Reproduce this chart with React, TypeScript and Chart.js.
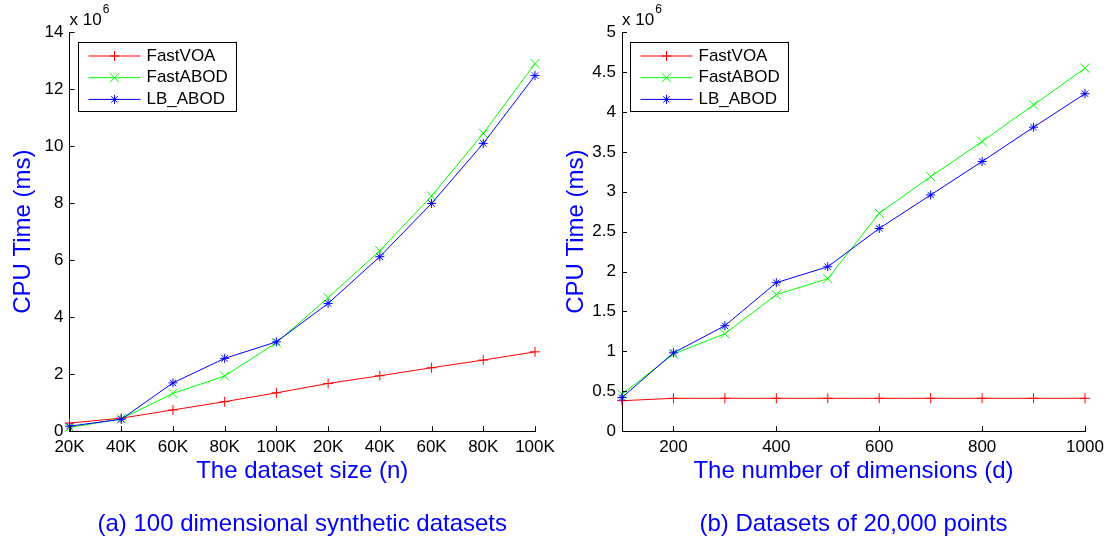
import React, { useEffect, useRef } from "react";
import { Chart, registerables } from "chart.js";

Chart.register(...registerables);

const FAMILY = '"Liberation Sans", Arial, Helvetica, sans-serif';
Chart.defaults.font.family = FAMILY;

// ---- series definitions ----
const seriesNames = ["FastVOA", "FastABOD", "LB_ABOD"];
const seriesColors = ["#FF0000", "#00FF00", "#0000FF"];
const seriesMarkers = ["cross", "crossRot", "star"];
const seriesMarkerRadius = [5, 6.5, 4.5];

// ---- (a) 100 dimensional synthetic datasets ----
const sizeCategories = ["20K", "40K", "60K", "80K", "100K", "20K", "40K", "60K", "80K", "100K"];
const sizeFastVOA = [0.28, 0.45, 0.74, 1.03, 1.34, 1.67, 1.94, 2.22, 2.49, 2.78];
const sizeFastABOD = [0.12, 0.43, 1.32, 1.93, 3.1, 4.68, 6.33, 8.25, 10.45, 12.9];
const sizeLBABOD = [0.17, 0.41, 1.69, 2.55, 3.13, 4.48, 6.12, 7.99, 10.1, 12.48];
const sizeYTicks = [0, 2, 4, 6, 8, 10, 12, 14];
const sizeYTickLabels = ["0", "2", "4", "6", "8", "10", "12", "14"];

// ---- (b) Datasets of 20,000 points ----
const dimValues = [100, 200, 300, 400, 500, 600, 700, 800, 900, 1000];
const dimFastVOA = [0.38, 0.41, 0.41, 0.41, 0.41, 0.41, 0.41, 0.41, 0.41, 0.41];
const dimFastABOD = [0.46, 0.965, 1.22, 1.71, 1.91, 2.73, 3.19, 3.63, 4.09, 4.55];
const dimLBABOD = [0.42, 0.98, 1.32, 1.86, 2.06, 2.54, 2.96, 3.38, 3.81, 4.23];
const dimXTicks = [200, 400, 600, 800, 1000];
const dimXTickLabels = ["200", "400", "600", "800", "1000"];
const dimYTicks = [0, 0.5, 1, 1.5, 2, 2.5, 3, 3.5, 4, 4.5, 5];
const dimYTickLabels = ["0", "0.5", "1", "1.5", "2", "2.5", "3", "3.5", "4", "4.5", "5"];

const BLUE = "#0000FF";

function drawMarker(ctx: CanvasRenderingContext2D, style: string, x: number, y: number, r: number) {
  ctx.beginPath();
  if (style === "cross" || style === "star") {
    ctx.moveTo(x - r, y);
    ctx.lineTo(x + r, y);
    ctx.moveTo(x, y - r);
    ctx.lineTo(x, y + r);
  }
  if (style === "crossRot" || style === "star") {
    const d = r * Math.SQRT1_2;
    ctx.moveTo(x - d, y - d);
    ctx.lineTo(x + d, y + d);
    ctx.moveTo(x - d, y + d);
    ctx.lineTo(x + d, y - d);
  }
  ctx.stroke();
}

function makeDecor(id: string) {
  return {
    id,
    afterDraw(chart: any) {
      const { ctx, chartArea: a, scales } = chart;
      const xs = scales.x;
      const ys = scales.y;
      ctx.save();
      // inward tick marks
      ctx.strokeStyle = "#000";
      ctx.lineWidth = 1;
      ctx.beginPath();
      xs.ticks.forEach((_t: any, i: number) => {
        const px = Math.round(xs.getPixelForTick(i)) + 0.5;
        ctx.moveTo(px, a.bottom);
        ctx.lineTo(px, a.bottom - 5);
      });
      ys.ticks.forEach((_t: any, i: number) => {
        const py = Math.round(ys.getPixelForTick(i)) + 0.5;
        ctx.moveTo(a.left, py);
        ctx.lineTo(a.left + 5, py);
      });
      ctx.stroke();

      // exponent label
      ctx.fillStyle = "#000";
      ctx.textBaseline = "middle";
      ctx.textAlign = "left";
      ctx.font = "17px " + FAMILY;
      ctx.fillText("x 10", a.left, 20);
      const w = ctx.measureText("x 10").width;
      ctx.font = "12px " + FAMILY;
      ctx.fillText("6", a.left + w + 1, 10);

      // legend box
      const x0 = Math.round(a.left + 8) + 0.5;
      const y0 = Math.round(a.top + 9.5) + 0.5;
      const bw = 158;
      const bh = 69;
      ctx.fillStyle = "#fff";
      ctx.fillRect(x0, y0, bw, bh);
      ctx.strokeStyle = "#000";
      ctx.lineWidth = 1;
      ctx.strokeRect(x0, y0, bw, bh);
      chart.data.datasets.forEach((ds: any, i: number) => {
        const y = y0 + 13.5 + i * 21.7;
        ctx.strokeStyle = ds.borderColor;
        ctx.lineWidth = 1;
        ctx.beginPath();
        ctx.moveTo(x0 + 10, y);
        ctx.lineTo(x0 + 62, y);
        ctx.stroke();
        drawMarker(ctx, ds.pointStyle, x0 + 36, y, ds.pointRadius);
        ctx.fillStyle = "#000";
        ctx.font = "17px " + FAMILY;
        ctx.textBaseline = "middle";
        ctx.fillText(ds.label, x0 + 68, y);
      });
      ctx.restore();
    },
  };
}

function makeDatasets(values: any[][]) {
  return values.map((data, i) => ({
    label: seriesNames[i],
    data,
    borderColor: seriesColors[i],
    backgroundColor: seriesColors[i],
    pointBorderColor: seriesColors[i],
    pointBackgroundColor: seriesColors[i],
    pointStyle: seriesMarkers[i],
    pointRadius: seriesMarkerRadius[i],
    pointBorderWidth: 1,
    borderWidth: 1,
    tension: 0,
    clip: false as any,
    order: 2 - i,
  }));
}

function commonScaleStyle() {
  return {
    grid: { display: false, drawTicks: false },
    border: { display: true, color: "#000", width: 1 },
  };
}

function configA(): any {
  return {
    type: "line",
    data: {
      labels: sizeCategories,
      datasets: makeDatasets([sizeFastVOA, sizeFastABOD, sizeLBABOD]),
    },
    options: {
      responsive: false,
      animation: false,
      layout: { padding: { top: 32.3, right: 21, left: 0, bottom: 0 } },
      plugins: {
        legend: { display: false },
        tooltip: { enabled: false },
        title: {
          display: true,
          position: "bottom",
          fullSize: false,
          text: "(a) 100 dimensional synthetic datasets",
          color: BLUE,
          font: { size: 24, weight: "normal" },
          padding: { top: 0, bottom: 0 },
        },
      },
      scales: {
        x: {
          type: "category",
          offset: false,
          ...commonScaleStyle(),
          ticks: { color: "#000", font: { size: 17 }, padding: 5.8, autoSkip: false, maxRotation: 0, minRotation: 0 },
          title: {
            display: true,
            text: "The dataset size (n)",
            color: BLUE,
            font: { size: 24 },
            padding: { top: 0, bottom: 24.8 },
          },
          afterFit: (s: any) => {
            s.height = 79.2;
            s.paddingLeft = 0;
            s.paddingRight = 0;
          },
        },
        y: {
          min: 0,
          max: 14,
          ...commonScaleStyle(),
          afterBuildTicks: (s: any) => {
            s.ticks = sizeYTicks.map((v) => ({ value: v }));
          },
          ticks: {
            color: "#000",
            font: { size: 17 },
            padding: 6,
            callback: (v: number) => sizeYTickLabels[sizeYTicks.indexOf(v)] ?? String(v),
          },
          title: {
            display: true,
            text: "CPU Time (ms)",
            color: BLUE,
            font: { size: 24 },
            padding: { top: 8.6, bottom: 0 },
          },
          afterFit: (s: any) => {
            s.width = 69.5;
            s.paddingTop = 0;
            s.paddingBottom = 0;
          },
        },
      },
    },
    plugins: [makeDecor("decorA")],
  };
}

function configB(): any {
  const toXY = (arr: number[]) => arr.map((y, i) => ({ x: dimValues[i], y }));
  return {
    type: "line",
    data: {
      datasets: makeDatasets([toXY(dimFastVOA), toXY(dimFastABOD), toXY(dimLBABOD)]),
    },
    options: {
      responsive: false,
      animation: false,
      layout: { padding: { top: 32.3, right: 28, left: 0, bottom: 0 } },
      plugins: {
        legend: { display: false },
        tooltip: { enabled: false },
        title: {
          display: true,
          position: "bottom",
          fullSize: false,
          text: "(b) Datasets of 20,000 points",
          color: BLUE,
          font: { size: 24, weight: "normal" },
          padding: { top: 0, bottom: 0 },
        },
      },
      scales: {
        x: {
          type: "linear",
          min: 100,
          max: 1000,
          ...commonScaleStyle(),
          afterBuildTicks: (s: any) => {
            s.ticks = dimXTicks.map((v) => ({ value: v }));
          },
          ticks: {
            color: "#000",
            font: { size: 17 },
            padding: 5.8,
            autoSkip: false,
            maxRotation: 0,
            minRotation: 0,
            callback: (v: number) => dimXTickLabels[dimXTicks.indexOf(v)] ?? String(v),
          },
          title: {
            display: true,
            text: "The number of dimensions (d)",
            color: BLUE,
            font: { size: 24 },
            padding: { top: 0, bottom: 24.8 },
          },
          afterFit: (s: any) => {
            s.height = 79.2;
            s.paddingLeft = 0;
            s.paddingRight = 0;
          },
        },
        y: {
          min: 0,
          max: 5,
          ...commonScaleStyle(),
          afterBuildTicks: (s: any) => {
            s.ticks = dimYTicks.map((v) => ({ value: v }));
          },
          ticks: {
            color: "#000",
            font: { size: 17 },
            padding: 6,
            callback: (v: number) => dimYTickLabels[dimYTicks.indexOf(v)] ?? String(v),
          },
          title: {
            display: true,
            text: "CPU Time (ms)",
            color: BLUE,
            font: { size: 24 },
            padding: { top: 5.6, bottom: 0 },
          },
          afterFit: (s: any) => {
            s.width = 66;
            s.paddingTop = 0;
            s.paddingBottom = 0;
          },
        },
      },
    },
    plugins: [makeDecor("decorB")],
  };
}

function ChartCanvas({ makeConfig, left, width }: { makeConfig: () => any; left: number; width: number }) {
  const ref = useRef<HTMLCanvasElement>(null);
  useEffect(() => {
    const chart = new Chart(ref.current as HTMLCanvasElement, makeConfig());
    return () => chart.destroy();
  }, []);
  return (
    <canvas
      ref={ref}
      width={width}
      height={539}
      style={{ position: "absolute", left, top: 0, width, height: 539, display: "block" }}
    />
  );
}

export default function App() {
  return (
    <div style={{ position: "absolute", left: 0, top: 0, width: 1113, height: 539, background: "#fff" }}>
      <ChartCanvas makeConfig={configA} left={0} width={556} />
      <ChartCanvas makeConfig={configB} left={556} width={557} />
    </div>
  );
}
